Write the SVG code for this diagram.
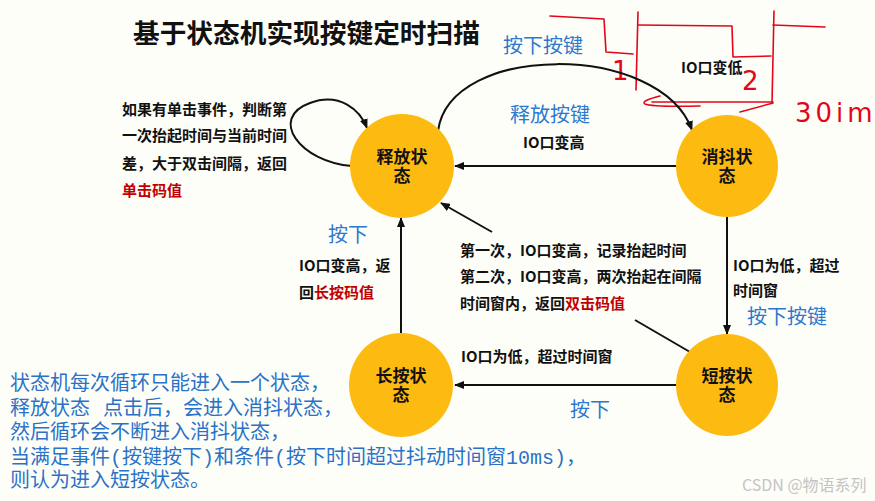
<svg xmlns="http://www.w3.org/2000/svg" width="875" height="501" viewBox="0 0 875 501">
<style>
.bg{fill:#FEFEF9}
.node{fill:#FDBB12}
.nt{font-family:"Noto Sans CJK SC","Noto Sans",sans-serif;font-size:17px;font-weight:bold;fill:#111;text-anchor:middle}
.lbl{font-family:"Noto Sans CJK SC","Noto Sans",sans-serif;font-size:15px;font-weight:bold;fill:#111}
.red{fill:#C00000}
.blue{font-family:"Noto Sans CJK SC","Noto Sans",sans-serif;font-size:20px;fill:#2B78CE}
.note{font-family:"Noto Sans CJK SC","Noto Sans",sans-serif;font-size:20px;fill:#2A72C8}
.mono{font-family:"Liberation Mono","DejaVu Sans Mono",monospace;font-size:20px}
.conn{fill:none;stroke:#111;stroke-width:2;marker-end:url(#arr)}
.seg{fill:none;stroke:#111;stroke-width:2}
.hand{fill:none;stroke:#E3061A;stroke-width:1.6;stroke-linecap:round;stroke-linejoin:round}
.handt{font-family:"DejaVu Sans","Liberation Sans",sans-serif;font-size:26px;fill:#E3061A;font-weight:normal}
</style>
<defs>
<marker id="arr" markerUnits="userSpaceOnUse" markerWidth="10" markerHeight="8" refX="9" refY="4" orient="auto">
<path d="M0,0 L10,4 L0,8 z" fill="#111"/>
</marker>
</defs>
<rect class="bg" x="0" y="0" width="875" height="501"/>

<text x="133" y="43" font-family="'Noto Sans CJK SC','Noto Sans',sans-serif" font-size="26.7" font-weight="bold" fill="#111">基于状态机实现按键定时扫描</text>

<g id="handwriting">
<path class="hand" d="M550 16 L604 19 L606 52 L633 54"/>
<path class="hand" d="M638 12 L636 90"/>
<path class="hand" d="M638 25 L732 26 L733 57 L771 56"/>
<path class="hand" d="M774 11 L772 103"/>
<path class="hand" d="M773 25 L825 27"/>
<path class="hand" d="M660 96 Q640 101 645 104 Q652 107 700 106"/>
<path class="hand" d="M652 102 L773 102"/>
<path class="hand" d="M740 112 L773 103"/>
<text class="handt" x="612" y="80">1</text>
<text class="handt" x="742" y="90">2</text>
<text class="handt" x="795" y="122" letter-spacing="4">30im</text>
</g>

<g id="connectors">
<path class="conn" d="M352 166 C300 162 268 118 310 103 C340 92 360 110 367 128"/>
<path class="conn" d="M438 131 C450 42 660 42 692 130"/>
<path class="conn" d="M676 166 L455 166"/>
<path class="conn" d="M727 217 L727 334"/>
<path class="conn" d="M676 385 L455 385"/>
<path class="conn" d="M401 334 L401 218"/>
<path class="conn" d="M492 232 L441 203"/>
<path class="seg" d="M635 320 L690 352"/>
</g>

<g id="node-release">
<circle class="node" cx="402" cy="166" r="52"/>
<text class="nt"><tspan x="402" y="163">释放状</tspan><tspan x="402" y="182">态</tspan></text>
</g>
<g id="node-debounce">
<circle class="node" cx="727" cy="166" r="51"/>
<text class="nt"><tspan x="727" y="163">消抖状</tspan><tspan x="727" y="182">态</tspan></text>
</g>
<g id="node-short">
<circle class="node" cx="727" cy="385" r="51"/>
<text class="nt"><tspan x="727" y="382">短按状</tspan><tspan x="727" y="401">态</tspan></text>
</g>
<g id="node-long">
<circle class="node" cx="401" cy="385" r="52"/>
<text class="nt"><tspan x="401" y="382">长按状</tspan><tspan x="401" y="401">态</tspan></text>
</g>

<g id="labels">
<text class="blue" x="503" y="53">按下按键</text>
<text class="lbl" x="681" y="73">IO口变低</text>
<text class="blue" x="510" y="122">释放按键</text>
<text class="lbl" x="523" y="148">IO口变高</text>

<text class="lbl" x="122" y="115">如果有单击事件，判断第</text>
<text class="lbl" x="122" y="141">一次抬起时间与当前时间</text>
<text class="lbl" x="122" y="169">差，大于双击间隔，返回</text>
<text class="lbl red" x="122" y="196">单击码值</text>

<text class="blue" x="328" y="242">按下</text>
<text class="lbl" x="299" y="271">IO口变高，返</text>
<text class="lbl" x="299" y="298">回</text>
<text class="lbl red" x="314" y="298">长按码值</text>

<text class="lbl" x="460" y="256">第一次，IO口变高，记录抬起时间</text>
<text class="lbl" x="460" y="282">第二次，IO口变高，两次抬起在间隔</text>
<text class="lbl" x="460" y="309">时间窗内，返回</text>
<text class="lbl red" x="565" y="309">双击码值</text>

<text class="lbl" x="733" y="271">IO口为低，超过</text>
<text class="lbl" x="733" y="296">时间窗</text>
<text class="blue" x="747" y="324">按下按键</text>

<text class="lbl" x="461" y="362">IO口为低，超过时间窗</text>
<text class="blue" x="570" y="417">按下</text>
</g>

<g id="note">
<text class="note" x="10" y="390">状态机每次循环只能进入一个状态，</text>
<text class="note" x="10" y="415">释放状态</text>
<text class="note" x="103" y="415">点击后，会进入消抖状态，</text>
<text class="note" x="10" y="439">然后循环会不断进入消抖状态，</text>
<text class="note" x="10" y="464">当满足事件</text>
<text class="note mono" x="110" y="464">(</text>
<text class="note" x="122" y="464">按键按下</text>
<text class="note mono" x="202" y="464">)</text>
<text class="note" x="214" y="464">和条件</text>
<text class="note mono" x="274" y="464">(</text>
<text class="note" x="286" y="464">按下时间超过抖动时间窗</text>
<text class="note mono" x="506" y="464">10ms)</text>
<text class="note" x="566" y="464">，</text>
<text class="note" x="10" y="487">则认为进入短按状态。</text>
</g>

<text x="742" y="491" font-family="'Noto Sans CJK SC','Noto Sans',sans-serif" font-size="16" fill="#C4C4C4">CSDN @物语系列</text>
</svg>
